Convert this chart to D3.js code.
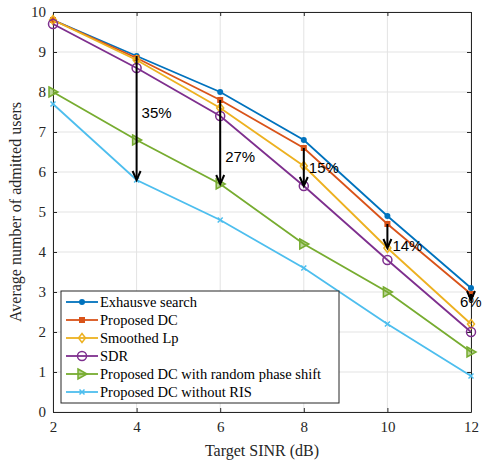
<!DOCTYPE html>
<html><head><meta charset="utf-8">
<script src="https://cdn.jsdelivr.net/npm/d3@7"></script>
<style>body{margin:0;background:#fff}svg{display:block}</style>
</head><body><svg id="c" width="484" height="460"></svg>
<script>
const snr = [2, 4, 6, 8, 10, 12];
const exhaustive = [9.8, 8.9, 8.0, 6.8, 4.9, 3.1];
const proposedDC = [9.8, 8.85, 7.8, 6.6, 4.7, 2.95];
const smoothedLp = [9.8, 8.8, 7.6, 6.15, 4.1, 2.2];
const sdr = [9.7, 8.6, 7.4, 5.65, 3.8, 2.0];
const randomPhase = [8.0, 6.8, 5.7, 4.2, 3.0, 1.5];
const withoutRIS = [7.7, 5.8, 4.8, 3.6, 2.2, 0.9];
const seriesNames = ["Exhausve search", "Proposed DC", "Smoothed Lp", "SDR", "Proposed DC with random phase shift", "Proposed DC without RIS"];
const xTicks = [2, 4, 6, 8, 10, 12];
const yTicks = [0, 1, 2, 3, 4, 5, 6, 7, 8, 9, 10];
// annotations: x, from value, to value, label
const annX = [4, 6, 8, 10, 12];
const annFrom = [8.9, 7.8, 6.6, 4.7, 2.95];
const annTo = [5.8, 5.7, 5.65, 4.1, 2.8];
const annLabel = ["35%", "27%", "15%", "14%", "6%"];

const colors = ["#0072BD", "#D95319", "#EDB120", "#7E2F8E", "#77AC30", "#4DBEEE"];
const markers = ["dot", "square", "diamond", "circle", "triangle", "x"];
const data = [exhaustive, proposedDC, smoothedLp, sdr, randomPhase, withoutRIS];

const svg = d3.select("#c");
const L = 53, R = 471, T = 12, B = 412;
const x = d3.scaleLinear().domain([2, 12]).range([L, R]);
const y = d3.scaleLinear().domain([0, 10]).range([B, T]);
const serif = "'Liberation Serif', 'Times New Roman', serif";

// grid
svg.append("g").selectAll("line").data(xTicks).join("line")
  .attr("x1", d => x(d)).attr("x2", d => x(d)).attr("y1", T).attr("y2", B)
  .attr("stroke", "#e3e3e3").attr("stroke-width", 1);
svg.append("g").selectAll("line").data(yTicks).join("line")
  .attr("y1", d => y(d)).attr("y2", d => y(d)).attr("x1", L).attr("x2", R)
  .attr("stroke", "#e3e3e3").attr("stroke-width", 1);

// axes
const xAxis = svg.append("g").attr("transform", `translate(0,${B})`)
  .call(d3.axisBottom(x).tickValues(xTicks).tickSizeInner(-4).tickSizeOuter(0).tickPadding(9));
const yAxis = svg.append("g").attr("transform", `translate(${L},0)`)
  .call(d3.axisLeft(y).tickValues(yTicks).tickSizeInner(-4).tickSizeOuter(0).tickPadding(7));
const xTop = svg.append("g").attr("transform", `translate(0,${T})`)
  .call(d3.axisTop(x).tickValues(xTicks).tickSizeInner(-4).tickSizeOuter(0).tickFormat(""));
const yRight = svg.append("g").attr("transform", `translate(${R},0)`)
  .call(d3.axisRight(y).tickValues(yTicks).tickSizeInner(-4).tickSizeOuter(0).tickFormat(""));
[xAxis, yAxis, xTop, yRight].forEach(g => {
  g.select(".domain").attr("stroke", "#262626").attr("stroke-width", 1);
  g.selectAll(".tick line").attr("stroke", "#262626");
  g.selectAll("text").attr("font-family", serif).attr("font-size", 15).attr("fill", "#262626");
});

// axis labels
svg.append("text").attr("x", (L + R) / 2).attr("y", 456).attr("text-anchor", "middle")
  .attr("font-family", serif).attr("font-size", 16).attr("fill", "#262626").text("Target SINR (dB)");
svg.append("text").attr("transform", `translate(21,${(T + B) / 2}) rotate(-90)`).attr("text-anchor", "middle")
  .attr("font-family", serif).attr("font-size", 16).attr("fill", "#262626").text("Average number of admitted users");

function drawMarker(g, type, cx, cy, col) {
  if (type === "dot") g.append("circle").attr("cx", cx).attr("cy", cy).attr("r", 3).attr("fill", col);
  else if (type === "square") g.append("rect").attr("x", cx - 3).attr("y", cy - 3).attr("width", 6).attr("height", 6).attr("fill", col);
  else if (type === "diamond") g.append("path").attr("d", `M${cx},${cy - 4.5}L${cx + 3.5},${cy}L${cx},${cy + 4.5}L${cx - 3.5},${cy}Z`).attr("fill", "none").attr("stroke", col).attr("stroke-width", 1.5);
  else if (type === "circle") g.append("circle").attr("cx", cx).attr("cy", cy).attr("r", 4.5).attr("fill", "none").attr("stroke", col).attr("stroke-width", 1.5);
  else if (type === "triangle") g.append("path").attr("d", `M${cx - 4},${cy - 5}L${cx + 5},${cy}L${cx - 4},${cy + 5}Z`).attr("fill", col).attr("fill-opacity", 0.5).attr("stroke", col).attr("stroke-width", 1.5);
  else if (type === "x") g.append("path").attr("d", `M${cx - 2.5},${cy - 2.5}L${cx + 2.5},${cy + 2.5}M${cx - 2.5},${cy + 2.5}L${cx + 2.5},${cy - 2.5}`).attr("stroke", col).attr("stroke-width", 1.5);
}

const line = d3.line().x((d, i) => x(snr[i])).y(d => y(d));
data.forEach((vals, k) => {
  const g = svg.append("g");
  g.append("path").attr("d", line(vals)).attr("fill", "none").attr("stroke", colors[k]).attr("stroke-width", 1.8);
  vals.forEach((v, i) => drawMarker(g, markers[k], x(snr[i]), y(v), colors[k]));
});

// arrows
const ag = svg.append("g");
annX.forEach((ax, i) => {
  const px = x(ax), y1 = y(annFrom[i]), y2 = y(annTo[i]);
  ag.append("line").attr("x1", px).attr("x2", px).attr("y1", y1).attr("y2", y2 - 1).attr("stroke", "#000").attr("stroke-width", 2);
  ag.append("path").attr("d", `M${px - 4},${y2 - 9}L${px},${y2}L${px + 4},${y2 - 9}`).attr("fill", "none").attr("stroke", "#000").attr("stroke-width", 2);
});
const labDx = [5, 5, 5, 5, -11];
const labY = [118, 162, 173, 251, 307];
annLabel.forEach((t, i) => {
  svg.append("text").attr("x", x(annX[i]) + labDx[i]).attr("y", labY[i])
    .attr("font-family", "'Liberation Sans', Arial, sans-serif").attr("font-size", 15).attr("fill", "#000").text(t);
});

// legend
const lg = svg.append("g");
lg.append("rect").attr("x", 61).attr("y", 291).attr("width", 278).attr("height", 112)
  .attr("fill", "#fff").attr("stroke", "#262626").attr("stroke-width", 1);
seriesNames.forEach((n, k) => {
  const ly = 302 + k * 18;
  lg.append("line").attr("x1", 66).attr("x2", 98).attr("y1", ly).attr("y2", ly).attr("stroke", colors[k]).attr("stroke-width", 1.8);
  drawMarker(lg, markers[k], 82, ly, colors[k]);
  lg.append("text").attr("x", 100).attr("y", ly + 5).attr("font-family", serif).attr("font-size", 14.5).attr("fill", "#000").text(n);
});
</script></body></html>
